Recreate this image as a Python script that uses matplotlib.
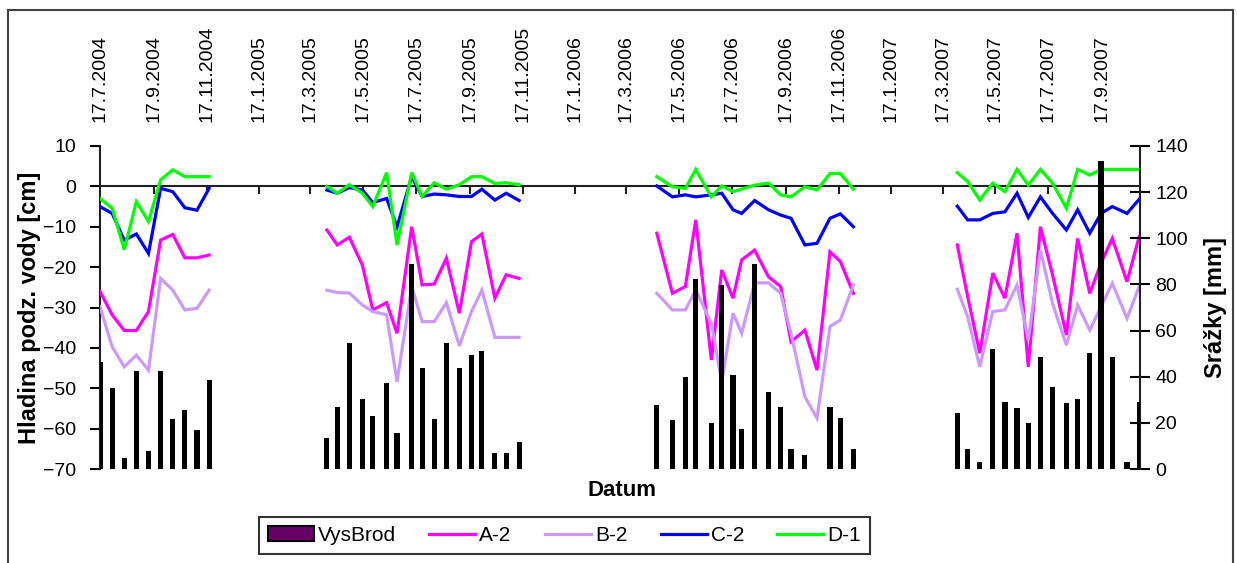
import pandas as pd
import matplotlib
matplotlib.use("Agg")
import matplotlib.pyplot as plt
from matplotlib.patches import Patch, Rectangle
from matplotlib.lines import Line2D

plt.rcParams['font.family'] = ['Liberation Sans', 'DejaVu Sans']

# measurement dates (four seasons)
dates = [
    "17.7.2004", "31.7.2004", "14.8.2004", "28.8.2004", "11.9.2004",
    "25.9.2004", "9.10.2004", "23.10.2004", "6.11.2004", "20.11.2004",
    "5.4.2005", "17.4.2005", "1.5.2005", "16.5.2005", "28.5.2005", "13.6.2005",
    "25.6.2005", "12.7.2005", "24.7.2005", "7.8.2005", "21.8.2005", "5.9.2005",
    "19.9.2005", "1.10.2005", "16.10.2005", "29.10.2005", "13.11.2005",
    "21.4.2006", "9.5.2006", "24.5.2006", "5.6.2006", "23.6.2006", "5.7.2006",
    "18.7.2006", "28.7.2006", "12.8.2006", "28.8.2006", "11.9.2006", "23.9.2006",
    "9.10.2006", "23.10.2006", "7.11.2006", "19.11.2006", "4.12.2006",
    "3.4.2007", "15.4.2007", "29.4.2007", "14.5.2007", "28.5.2007", "11.6.2007",
    "24.6.2007", "8.7.2007", "22.7.2007", "7.8.2007", "20.8.2007", "3.9.2007",
    "16.9.2007", "29.9.2007", "16.10.2007", "30.10.2007",
]

# precipitation VysBrod [mm]
vysbrod = [
    46.5, 35.2, 4.6, 42.5, 7.9, 42.5, 21.5, 25.6, 16.9, 38.6,
    13.3, 27.0, 54.5, 30.2, 23.1, 37.4, 15.7, 88.8, 43.9, 21.5, 54.5, 43.9,
    49.4, 51.3, 7.1, 7.1, 11.8,
    27.7, 21.2, 40.0, 82.3, 19.8, 79.7, 40.7, 17.3, 88.8, 33.5, 27.0, 8.5,
    6.1, 0.0, 27.0, 22.2, 8.5,
    24.4, 8.5, 3.2, 51.9, 29.2, 26.3, 19.8, 48.7, 35.7, 28.5, 30.2, 50.4,
    133.6, 48.7, 3.2, 29.2,
]

# groundwater level [cm]
a2 = [
    -26, -31.8, -35.7, -35.7, -31, -13.3, -11.9, -17.7, -17.7, -17,
    -10.8, -14.5, -12.6, -19.5, -30.6, -28.8, -36.4, -10, -24.4, -24.2, -17.8,
    -31.4, -13.7, -11.8, -27.7, -21.9, -22.8,
    -11.6, -26.5, -24.8, -8.3, -43.0, -20.7, -27.7, -18.2, -15.8, -22.4, -24.8,
    -38.5, -35.6, -45.5, -16.2, -18.6, -26.5,
    -14.5, -27.3, -41.3, -21.5, -27.7, -11.6, -44.7, -10, -21.9, -36.8, -12.9,
    -26.5, -19, -12.9, -23.6, -12.5,
]
b2 = [
    -29.8, -39.7, -44.7, -41.8, -45.5, -22.8, -25.7, -30.6, -30.2, -25.7,
    -25.7, -26.3, -26.4, -29.4, -31, -31.8, -48.4, -24.8, -33.5, -33.5, -28.8,
    -39.5, -31, -25.7, -37.4, -37.4, -37.4,
    -26.5, -30.6, -30.6, -25.7, -33.9, -48.4, -31.4, -36.4, -23.9, -23.9, -26.5,
    -36.4, -52.1, -57.4, -34.7, -33.1, -24.4,
    -25.5, -32.3, -44.7, -31.0, -30.6, -24.4, -38.0, -15.8, -29.0, -39.3, -29.4,
    -35.6, -29.8, -24.0, -32.7, -24.8,
]
c2 = [
    -5, -6.7, -13.3, -11.8, -16.6, -0.5, -1.3, -5.3, -5.9, -0.5,
    -0.9, -1.7, -0.3, -0.9, -4, -3, -10, 2.4, -2.5, -1.9, -2.1, -2.5, -2.5,
    -0.7, -3.4, -1.7, -3.5,
    0.1, -2.6, -2.1, -2.6, -2.1, -1.7, -5.8, -6.7, -3.5, -5.8, -7.1, -7.9,
    -14.5, -14.1, -7.9, -6.8, -10,
    -4.9, -8.3, -8.3, -6.7, -6.3, -1.7, -7.7, -2.6, -6.7, -10.8, -5.8, -11.6,
    -6.7, -5.0, -6.7, -3.2,
]
d1 = [
    -3, -5.4, -15.7, -3.8, -8.7, 1.6, 4.1, 2.4, 2.4, 2.4,
    0, -1.7, 0.4, -1.7, -5, 3.4, -14.5, 3.4, -2.5, 0.9, -0.7, 0.4, 2.4, 2.4,
    0.7, 0.9, 0.4,
    2.4, -0.1, -0.5, 4.2, -2.6, 0.1, -1.3, -0.7, 0.3, 0.8, -2.1, -2.6, -0.1,
    -0.9, 3.2, 3.2, -0.7,
    3.4, 1.2, -3.4, 0.8, -1.3, 4.2, 0.3, 4.2, 0.8, -5.4, 4.2, 2.8, 4.2, 4.2,
    4.2, 4.2,
]

tick_labels = [
    "17.7.2004", "17.9.2004", "17.11.2004", "17.1.2005", "17.3.2005",
    "17.5.2005", "17.7.2005", "17.9.2005", "17.11.2005", "17.1.2006",
    "17.3.2006", "17.5.2006", "17.7.2006", "17.9.2006", "17.11.2006",
    "17.1.2007", "17.3.2007", "17.5.2007", "17.7.2007", "17.9.2007",
]

series = [("A-2", a2, "#ff00ff"), ("B-2", b2, "#cc99ff"),
          ("C-2", c2, "#0000ff"), ("D-1", d1, "#00ff00")]

df = pd.DataFrame({"date": pd.to_datetime(dates, format="%d.%m.%Y"),
                   "VysBrod": vysbrod, "A-2": a2, "B-2": b2, "C-2": c2, "D-1": d1})
# split into seasons where there is a long gap
df["season"] = (df["date"].diff().dt.days > 60).cumsum()
ticks = pd.to_datetime(tick_labels, format="%d.%m.%Y")

W, H = 1237, 563
fig = plt.figure(figsize=(W / 100, H / 100), dpi=100)
ax = fig.add_axes([100 / W, (H - 469) / H, 1040 / W, 323 / H])
ax2 = ax.twinx()

for name, vals, col in series:
    for _, g in df.groupby("season"):
        ax.plot(g["date"], g[name], color=col, lw=2.3, zorder=3,
                solid_joinstyle="miter")

ax2.bar(df["date"], df["VysBrod"], width=6, color="black", zorder=3)

ax.set_xlim(pd.Timestamp("2004-07-17"), pd.Timestamp("2007-10-31"))
ax.set_ylim(-70, 10)
ax2.set_ylim(0, 140)
ax.set_yticks(range(-70, 11, 10))
ax2.set_yticks(range(0, 141, 20))

for s in ["top", "right"]:
    ax.spines[s].set_visible(False)
for s in ["top", "left", "bottom"]:
    ax2.spines[s].set_visible(False)
ax.spines["bottom"].set_position(("data", 0))
for sp in [ax.spines["left"], ax.spines["bottom"], ax2.spines["right"]]:
    sp.set_linewidth(1.5)
    sp.set_color("#202020")

ax.set_xticks(ticks)
ax.tick_params(axis="x", direction="out", length=6, width=1.5,
               labelbottom=False, color="#202020")
ax.tick_params(axis="y", direction="out", length=7, width=1.5,
               labelsize=14, pad=10)
ax2.tick_params(axis="y", direction="inout", length=14, width=1.5,
                labelsize=14, pad=4)

top = ax.secondary_xaxis("top")
top.set_xticks(ticks)
top.set_xticklabels(tick_labels, rotation=90, fontsize=14)
top.tick_params(length=0, pad=17)
top.spines["top"].set_visible(False)

ax.set_ylabel("Hladina podz. vody [cm]", fontsize=17, fontweight="bold")
ax.yaxis.set_label_coords(-0.057, 0.5)
ax2.set_ylabel("Srážky [mm]", fontsize=17, fontweight="bold", rotation=90)
ax2.yaxis.set_label_coords(1.062, 0.5)
fig.text(622 / W, 1 - 490 / H, "Datum", fontsize=16, fontweight="bold",
         ha="center", va="center")

handles = [Patch(facecolor="#660066", edgecolor="black", lw=1.5, label="VysBrod")]
handles += [Line2D([], [], color=c, lw=2.3, label=n) for n, _, c in series]
leg = fig.legend(handles=handles, loc="center", ncol=5,
                 bbox_to_anchor=(564.5 / W, 1 - 535.5 / H), fontsize=15,
                 frameon=True, fancybox=False, handlelength=2.2,
                 handleheight=0.75, handletextpad=0.2, columnspacing=1.6,
                 borderpad=0.42)
leg.get_frame().set_edgecolor("black")
leg.get_frame().set_linewidth(1.5)

fig.patches.append(Rectangle((8 / W, -0.05), (1233 - 8) / W, 1.05 - 10 / H,
                             transform=fig.transFigure, fill=False,
                             lw=1.5, edgecolor="#404040"))

fig.savefig("out.png", dpi=100)
